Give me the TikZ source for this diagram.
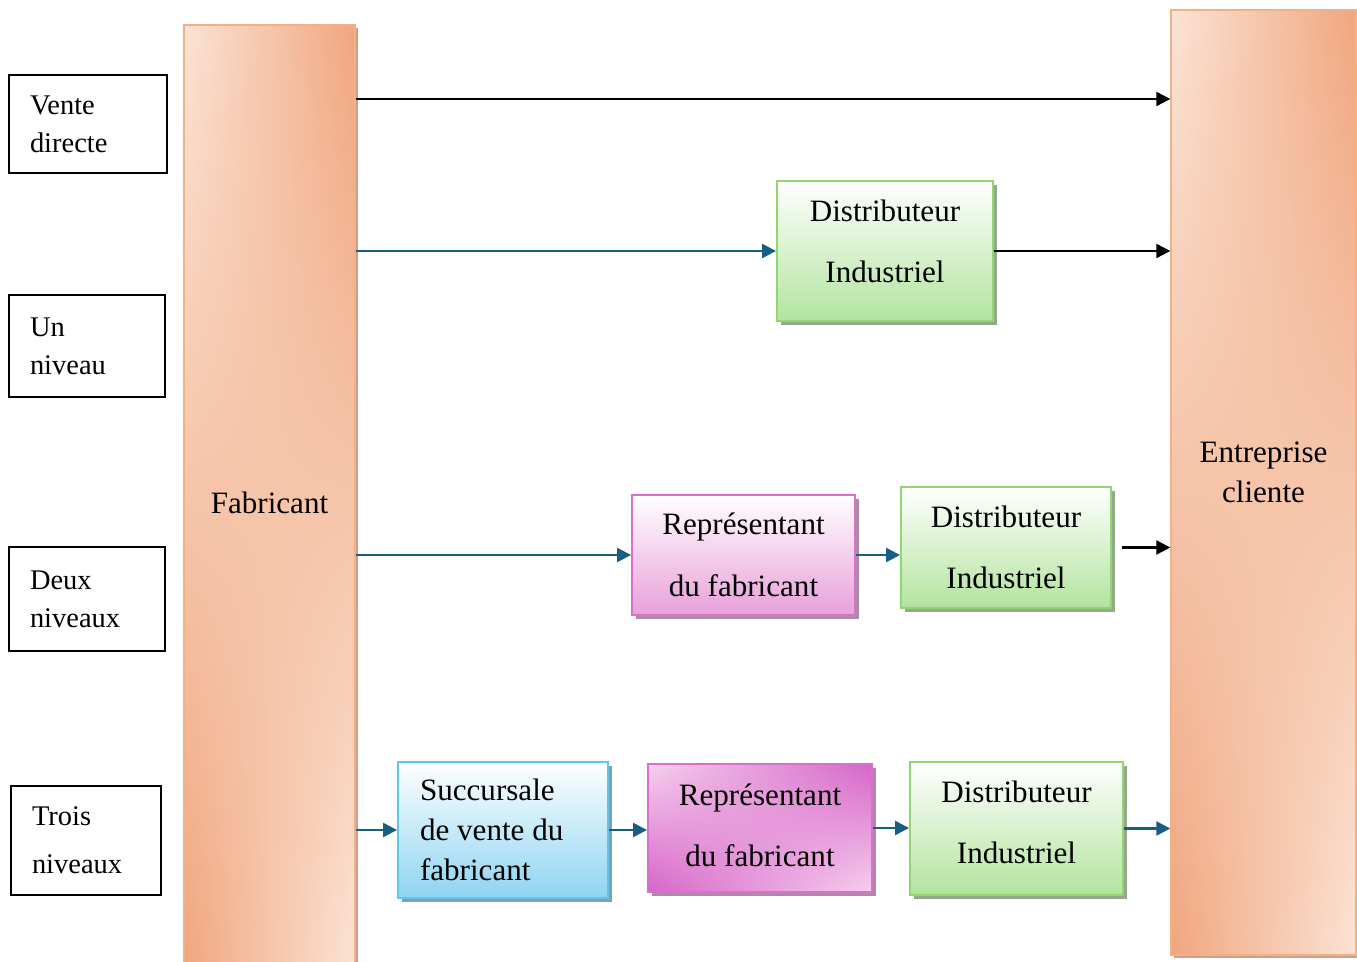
\documentclass[tikz,border=0pt]{standalone}
\usepackage{fontspec}
\setmainfont{Liberation Serif}
\usetikzlibrary{arrows.meta, shadows, shadings}
\definecolor{peach_light}	{RGB}{251,227,213}
\definecolor{peach_dark}	{RGB}{240,166,126}
\definecolor{peach_line}	{RGB}{244,176,132}
\definecolor{peach_shadow}	{RGB}{205,160,140}
\definecolor{green_line}	{RGB}{146,214,112}
\definecolor{green_fill}	{RGB}{178,228,158}
\definecolor{green_shadow}	{RGB}{150,168,140}
\definecolor{pink_line}		{RGB}{218,112,204}
\definecolor{pink_fill}		{RGB}{232,160,218}
\definecolor{pink_dark}		{RGB}{214,100,200}
\definecolor{pink_light}	{RGB}{246,208,238}
\definecolor{pink_shadow}	{RGB}{170,140,165}
\definecolor{blue_line}		{RGB}{96,196,240}
\definecolor{blue_fill}		{RGB}{142,212,242}
\definecolor{blue_shadow}	{RGB}{130,160,175}
\definecolor{arrow_blue}	{RGB}{24,94,130}
\newcommand{\boxfont}	{\fontsize{17.7}{35}\selectfont}
\newcommand{\succfont}	{\fontsize{17.7}{22.7}\selectfont}
\newcommand{\levelfont}	{\fontsize{16.2}{21.5}\selectfont}
\begin{document}
\begin{tikzpicture}[
		x               = 0.02cm,
		y               = -0.02cm,
		levelB/.style   = {draw = black,
			rectangle,
			align          = flush left,
			inner xsep     = 0.42cm,
			inner ysep     = 0pt,
			font           = \levelfont,
			line width     = 0.9pt},
		barB/.style     = {draw = peach_line,
			rectangle,
			align          = center,
			shading        = bilinear interpolation,
			upper left     = peach_light,
			upper right    = peach_dark,
			lower left     = peach_dark,
			lower right    = peach_light,
			drop shadow    = {shadow xshift=0.06cm, shadow yshift=-0.06cm,
				fill=peach_shadow, opacity=1},
			font           = \boxfont,
			line width     = 0.8pt,
			minimum height = 18.9cm},
		blockG/.style   = {draw = green_line,
			rectangle,
			align          = center,
			top color      = white,
			bottom color   = green_fill,
			drop shadow    = {shadow xshift=0.08cm, shadow yshift=-0.08cm,
				fill=green_shadow, opacity=1},
			font           = \boxfont,
			line width     = 1.1pt},
		blockP/.style   = {draw = pink_line,
			rectangle,
			align          = center,
			top color      = white,
			bottom color   = pink_fill,
			drop shadow    = {shadow xshift=0.08cm, shadow yshift=-0.08cm,
				fill=pink_shadow, opacity=1},
			font           = \boxfont,
			line width     = 1.1pt},
		blockB/.style   = {draw = blue_line,
			rectangle,
			align          = flush left,
			inner xsep     = 0.44cm,
			text width     = 3.32cm,
			top color      = white,
			bottom color   = blue_fill,
			drop shadow    = {shadow xshift=0.08cm, shadow yshift=-0.08cm,
				fill=blue_shadow, opacity=1},
			font           = \succfont,
			line width     = 1.1pt},
		arrowK/.style   = {-{Triangle[length=8pt, width=8pt]}, draw = black, line width = 1.3pt},
		arrowB/.style   = {-{Triangle[length=8pt, width=8pt]}, draw = arrow_blue, line width = 1.3pt}]
		
		\useasboundingbox (0,0) rectangle (1357,962);
		
		% niveaux du canal
		\node[levelB, text width=2.32cm, minimum height=1.96cm] (Vente) at (88,124)
		{Vente\\directe};
		\node[levelB, text width=2.28cm, minimum height=2.04cm] (Un) at (87,346)
		{Un\\niveau};
		\node[levelB, text width=2.28cm, minimum height=2.08cm] (Deux) at (87,599)
		{Deux\\niveaux};
		\node[levelB, text width=2.16cm, minimum height=2.18cm] (Trois) at (86,840.5)
		{Trois\\[6pt]niveaux};
		
		% fabricant et client
		\node[barB, minimum width=3.42cm, text height=18pt] (Fab) at (269.5,497.5) {Fabricant};
		\node[barB, minimum width=3.70cm, text depth=12pt] (Ent) at (1263.5,482.5) {Entreprise\\[-12pt]cliente};
		
		% intermediaires
		\node[blockG, minimum width=4.32cm, minimum height=2.80cm, text depth=11pt] (Dist1) at (885,251)
		{Distributeur\\Industriel};
		
		\node[blockP, minimum width=4.46cm, minimum height=2.40cm] (Rep2) at (743.5,555)
		{Représentant\\du fabricant};
		\node[blockG, minimum width=4.20cm, minimum height=2.42cm] (Dist2) at (1006,547.5)
		{Distributeur\\Industriel};
		
		\node[blockB, minimum height=2.72cm] (Succ3) at (503,830)
		{Succursale\\de vente du\\fabricant};
		\node[blockP, shading=bilinear interpolation, upper left=pink_light, upper right=pink_dark,
			lower left=pink_dark, lower right=pink_light, text depth=3pt,
			minimum width=4.48cm, minimum height=2.56cm] (Rep3) at (760,828)
		{Représentant\\du fabricant};
		\node[blockG, minimum width=4.26cm, minimum height=2.66cm, text depth=7pt] (Dist3) at (1016.5,828.5)
		{Distributeur\\Industriel};
		
		\coordinate (row0) at (0,99);
		
		\draw[arrowK] (Fab.east |- row0) -- (Ent.west |- row0);
		
		\draw[arrowB] (Fab.east |- Dist1.west) -- (Dist1.west);
		\draw[arrowK] (Dist1.east) -- (Ent.west |- Dist1.east);
		
		\draw[arrowB] (Fab.east |- Rep2.west) -- (Rep2.west);
		\draw[arrowB] (Rep2.east) -- (Rep2.east -| Dist2.west);
		\draw[arrowK, shorten <=6pt] (Dist2.east) -- (Ent.west |- Dist2.east);
		
		\draw[arrowB] (Fab.east |- Succ3.west) -- (Succ3.west);
		\draw[arrowB] (Succ3.east) -- (Succ3.east -| Rep3.west);
		\draw[arrowB] (Rep3.east) -- (Rep3.east -| Dist3.west);
		\draw[arrowB] (Dist3.east) -- (Dist3.east -| Ent.west);
		
	\end{tikzpicture}
\end{document}
